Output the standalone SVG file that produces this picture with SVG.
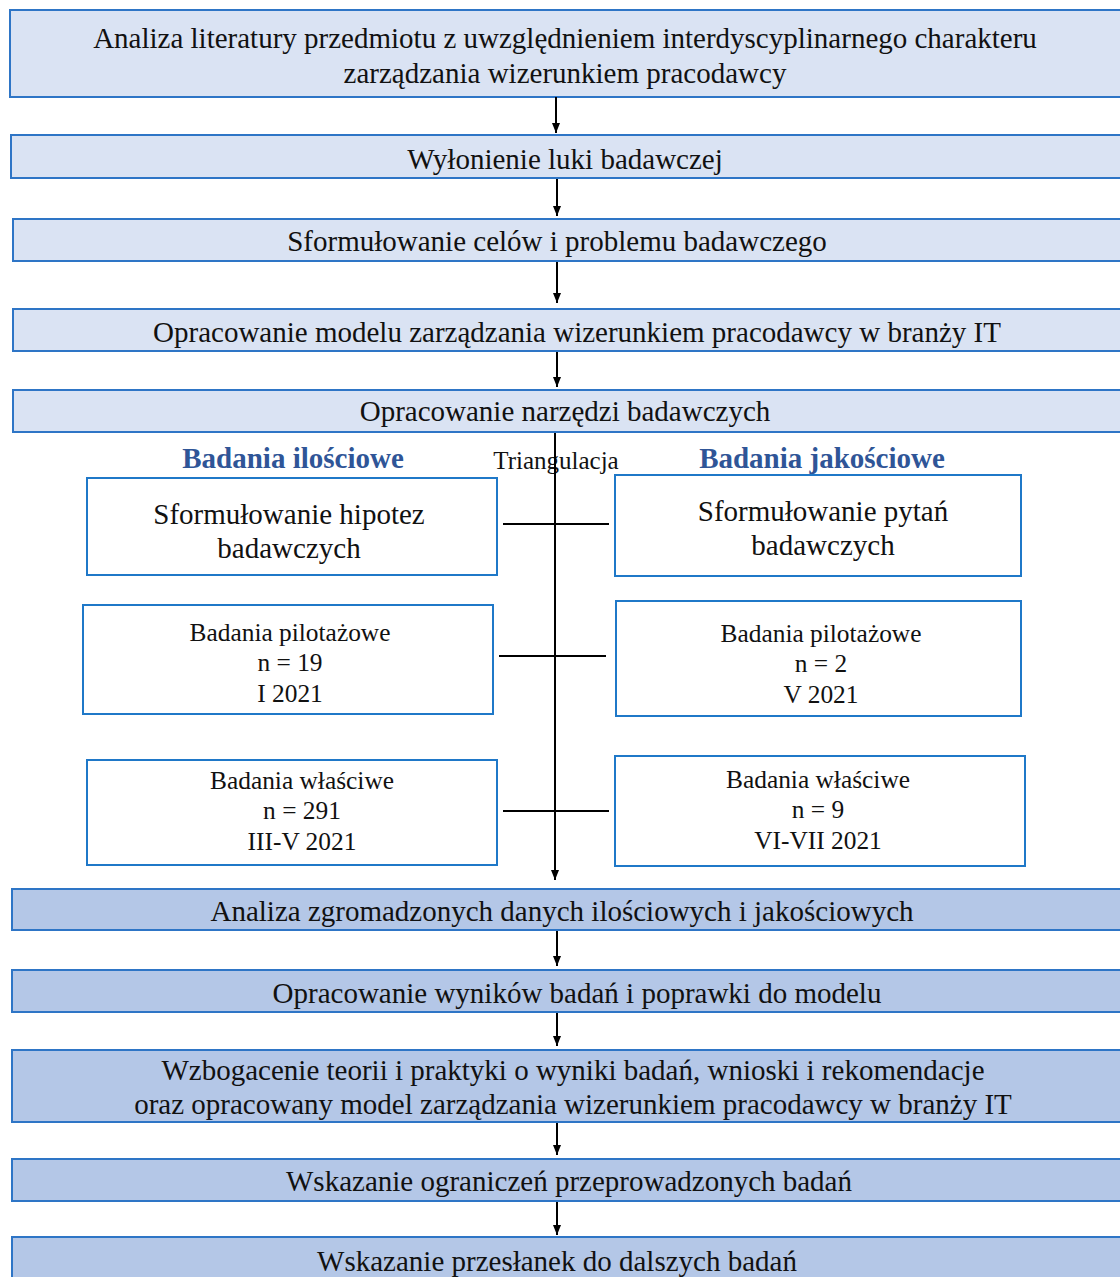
<svg xmlns="http://www.w3.org/2000/svg" width="1120" height="1277" viewBox="0 0 1120 1277">
<defs>
<marker id="ah" viewBox="0 0 10 10" refX="10" refY="5" markerWidth="5" markerHeight="5" orient="auto" markerUnits="strokeWidth">
<path d="M0,1 L10,5 L0,9 z" fill="#000"/>
</marker>
<style>
.lb{fill:#dae3f3;stroke:#2e75c6;stroke-width:2}
.db{fill:#b4c7e7;stroke:#2e75c6;stroke-width:2}
.wb{fill:#fff;stroke:#1f78c8;stroke-width:2}
text{font-family:"Liberation Serif","Times New Roman",serif;fill:#111;text-anchor:middle}
.t26{font-size:29px}
.t22{font-size:25.4px}
.hd{font-size:29px;font-weight:bold;fill:#2f5597}
.tr{font-size:25px}
.c{stroke:#000;stroke-width:2;fill:none}
</style>
</defs>
<g id="n1"><rect class="lb" x="10" y="10" width="1120" height="87"/><text class="t26" x="565" y="48">Analiza literatury przedmiotu z uwzględnieniem interdyscyplinarnego charakteru</text><text class="t26" x="565" y="83">zarządzania wizerunkiem pracodawcy</text></g>
<g id="n2"><rect class="lb" x="11" y="135" width="1120" height="43"/><text class="t26" x="565" y="169">Wyłonienie luki badawczej</text></g>
<g id="n3"><rect class="lb" x="13" y="219" width="1120" height="42"/><text class="t26" x="557" y="251">Sformułowanie celów i problemu badawczego</text></g>
<g id="n4"><rect class="lb" x="13" y="309" width="1120" height="42"/><text class="t26" x="577" y="342">Opracowanie modelu zarządzania wizerunkiem pracodawcy w branży IT</text></g>
<g id="n5"><rect class="lb" x="13" y="390" width="1120" height="42"/><text class="t26" x="565" y="421">Opracowanie narzędzi badawczych</text></g>
<g id="h1"><text class="hd" x="293" y="468">Badania ilościowe</text></g>
<g id="h2"><text class="tr" x="556" y="469">Triangulacja</text></g>
<g id="h3"><text class="hd" x="822" y="468">Badania jakościowe</text></g>
<g id="l1"><rect class="wb" x="87" y="478" width="410" height="97"/><text class="t26" x="289" y="524">Sformułowanie hipotez</text><text class="t26" x="289" y="558">badawczych</text></g>
<g id="r1"><rect class="wb" x="615" y="475" width="406" height="101"/><text class="t26" x="823" y="521">Sformułowanie pytań</text><text class="t26" x="823" y="555">badawczych</text></g>
<g id="l2"><rect class="wb" x="83" y="605" width="410" height="109"/><text class="t22" x="290" y="641">Badania pilotażowe</text><text class="t22" x="290" y="671">n = 19</text><text class="t22" x="290" y="702">I 2021</text></g>
<g id="r2"><rect class="wb" x="616" y="601" width="405" height="115"/><text class="t22" x="821" y="642">Badania pilotażowe</text><text class="t22" x="821" y="672">n = 2</text><text class="t22" x="821" y="703">V 2021</text></g>
<g id="l3"><rect class="wb" x="87" y="760" width="410" height="105"/><text class="t22" x="302" y="789">Badania właściwe</text><text class="t22" x="302" y="819">n = 291</text><text class="t22" x="302" y="850">III-V 2021</text></g>
<g id="r3"><rect class="wb" x="615" y="756" width="410" height="110"/><text class="t22" x="818" y="788">Badania właściwe</text><text class="t22" x="818" y="818">n = 9</text><text class="t22" x="818" y="849">VI-VII 2021</text></g>
<g id="n6"><rect class="db" x="12" y="889" width="1120" height="41"/><text class="t26" x="562" y="921">Analiza zgromadzonych danych ilościowych i jakościowych</text></g>
<g id="n7"><rect class="db" x="12" y="970" width="1120" height="42"/><text class="t26" x="577" y="1003">Opracowanie wyników badań i poprawki do modelu</text></g>
<g id="n8"><rect class="db" x="12" y="1050" width="1120" height="72"/><text class="t26" x="573" y="1080">Wzbogacenie teorii i praktyki o wyniki badań, wnioski i rekomendacje</text><text class="t26" x="573" y="1114">oraz opracowany model zarządzania wizerunkiem pracodawcy w branży IT</text></g>
<g id="n9"><rect class="db" x="12" y="1159" width="1120" height="42"/><text class="t26" x="569" y="1191">Wskazanie ograniczeń przeprowadzonych badań</text></g>
<g id="n10"><rect class="db" x="12" y="1237" width="1120" height="60"/><text class="t26" x="557" y="1271">Wskazanie przesłanek do dalszych badań</text></g>
<g id="connectors">
<line class="c" x1="556" y1="97" x2="556" y2="133" marker-end="url(#ah)"/>
<line class="c" x1="557" y1="179" x2="557" y2="216" marker-end="url(#ah)"/>
<line class="c" x1="557" y1="262" x2="557" y2="303" marker-end="url(#ah)"/>
<line class="c" x1="557" y1="352" x2="557" y2="387" marker-end="url(#ah)"/>
<line class="c" x1="555" y1="433" x2="555" y2="880" marker-end="url(#ah)"/>
<line class="c" x1="503" y1="524" x2="609" y2="524"/>
<line class="c" x1="499" y1="656" x2="606" y2="656"/>
<line class="c" x1="503" y1="811" x2="609" y2="811"/>
<line class="c" x1="557" y1="931" x2="557" y2="966" marker-end="url(#ah)"/>
<line class="c" x1="557" y1="1013" x2="557" y2="1046" marker-end="url(#ah)"/>
<line class="c" x1="557" y1="1123" x2="557" y2="1155" marker-end="url(#ah)"/>
<line class="c" x1="557" y1="1202" x2="557" y2="1235" marker-end="url(#ah)"/>
</g>
</svg>
